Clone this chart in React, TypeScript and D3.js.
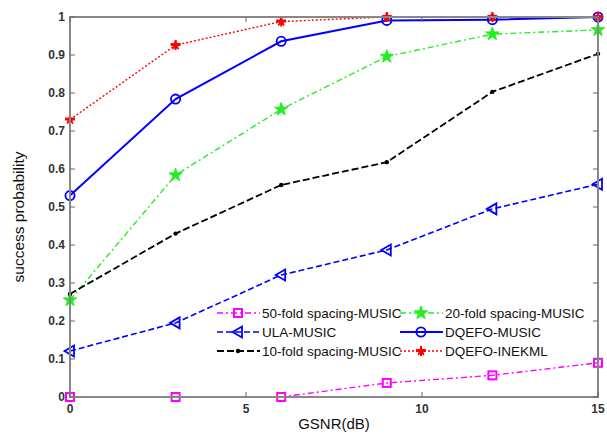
import React from "react";
import * as d3 from "d3";

const gsnr = [0, 3, 6, 9, 12, 15];
const fold50 = [0, 0, 0, 0.037, 0.057, 0.09];
const fold20 = [0.255, 0.584, 0.757, 0.896, 0.955, 0.966];
const ula = [0.121, 0.195, 0.321, 0.387, 0.495, 0.56];
const dqefoMusic = [0.53, 0.784, 0.936, 0.991, 0.993, 1.0];
const fold10 = [0.271, 0.43, 0.558, 0.618, 0.803, 0.903];
const dqefoInekml = [0.73, 0.926, 0.988, 1.0, 1.0, 1.0];

const seriesNames = [
  "50-fold spacing-MUSIC",
  "20-fold spacing-MUSIC",
  "ULA-MUSIC",
  "DQEFO-MUSIC",
  "10-fold spacing-MUSIC",
  "DQEFO-INEKML",
];
const xTicks = [0, 5, 10, 15];
const yTicks = [0, 0.1, 0.2, 0.3, 0.4, 0.5, 0.6, 0.7, 0.8, 0.9, 1];

const W = 607;
const H = 436;
const left = 70;
const right = 598;
const top = 17;
const bottom = 397;
const font = "'Liberation Sans', Arial, sans-serif";

type Style = { color: string; dash: string; marker: string; width: number };

const styles: Style[] = [
  { color: "#ff00ff", dash: "6,3,2,3", marker: "square", width: 1.4 },
  { color: "#22ee22", dash: "6,3,2,3", marker: "star", width: 1.4 },
  { color: "#0000ff", dash: "6,3", marker: "triangle", width: 1.6 },
  { color: "#0000ff", dash: "", marker: "circle", width: 2 },
  { color: "#000000", dash: "7,3", marker: "dot", width: 1.8 },
  { color: "#ff0000", dash: "2,2", marker: "hexstar", width: 1.4 },
];

const data = [fold50, fold20, ula, dqefoMusic, fold10, dqefoInekml];

function Marker({ kind, x, y, color }: { kind: string; x: number; y: number; color: string }) {
  if (kind === "square")
    return <rect x={x - 4} y={y - 4} width={8} height={8} fill="none" stroke={color} strokeWidth={2} />;
  if (kind === "circle") return <circle cx={x} cy={y} r={4.6} fill="none" stroke={color} strokeWidth={1.8} />;
  if (kind === "dot") return <circle cx={x} cy={y} r={2.2} fill={color} />;
  if (kind === "triangle") {
    const p = `${x - 5.5},${y} ${x + 4},${y - 5.5} ${x + 4},${y + 5.5}`;
    return <polygon points={p} fill="none" stroke={color} strokeWidth={1.8} />;
  }
  if (kind === "star") {
    const path = d3.symbol(d3.symbolStar, 55)();
    return <path d={path || ""} transform={`translate(${x},${y})`} fill={color} stroke={color} strokeWidth={1} />;
  }
  const path = d3.symbol(d3.symbolStar, 28)();
  return (
    <g transform={`translate(${x},${y})`}>
      <path d={path || ""} fill={color} stroke={color} strokeWidth={1} />
      <path d={`M-5,0H5M0,-5V5`} stroke={color} strokeWidth={2} />
    </g>
  );
}

export default function App() {
  const x = d3.scaleLinear().domain([0, 15]).range([left, right]);
  const y = d3.scaleLinear().domain([0, 1]).range([bottom, top]);
  const line = d3
    .line<number>()
    .x((_, i) => x(gsnr[i]))
    .y((v) => y(v));

  const legendRows = [313, 332, 351];
  const legendCols = [217, 400];

  return (
    <div style={{ position: "fixed", left: 0, top: 0 }}>
      <svg width={W} height={H} style={{ display: "block", background: "#fff" }}>
        <rect x={0} y={0} width={W} height={H} fill="#fff" />
        {/* series */}
        {data.map((vals, si) => {
          const s = styles[si];
          return (
            <g key={si}>
              <path
                d={line(vals) || ""}
                fill="none"
                stroke={s.color}
                strokeWidth={s.width}
                strokeDasharray={s.dash}
              />
              {vals.map((v, i) => (
                <Marker key={i} kind={s.marker} x={x(gsnr[i])} y={y(v)} color={s.color} />
              ))}
            </g>
          );
        })}
        {/* axes box */}
        <rect x={left} y={top} width={right - left} height={bottom - top} fill="none" stroke="#888" strokeWidth={2} />
        {yTicks.map((t) => (
          <g key={t}>
            <line x1={left} x2={left + 5} y1={y(t)} y2={y(t)} stroke="#666" strokeWidth={1} />
            <line x1={right} x2={right - 5} y1={y(t)} y2={y(t)} stroke="#666" strokeWidth={1} />
            <text
              x={left - 5}
              y={y(t) + 4}
              textAnchor="end"
              fontFamily={font}
              fontSize={12}
              fontWeight="bold"
              fill="#333"
            >
              {d3.format("~g")(t)}
            </text>
          </g>
        ))}
        {xTicks.map((t) => (
          <g key={t}>
            <line x1={x(t)} x2={x(t)} y1={bottom} y2={bottom - 5} stroke="#666" strokeWidth={1} />
            <line x1={x(t)} x2={x(t)} y1={top} y2={top + 5} stroke="#666" strokeWidth={1} />
            <text
              x={x(t)}
              y={bottom + 16}
              textAnchor="middle"
              fontFamily={font}
              fontSize={12}
              fontWeight="bold"
              fill="#333"
            >
              {t}
            </text>
          </g>
        ))}
        <text x={(left + right) / 2} y={429} textAnchor="middle" fontFamily={font} fontSize={15} fill="#111">
          GSNR(dB)
        </text>
        <text
          transform={`translate(24,${217}) rotate(-90)`}
          textAnchor="middle"
          fontFamily={font}
          fontSize={15.5}
          fill="#111"
        >
          success probability
        </text>
        {/* legend */}
        {seriesNames.map((name, i) => {
          const col = legendCols[i % 2];
          const row = legendRows[Math.floor(i / 2)];
          const s = styles[i];
          return (
            <g key={name}>
              <line
                x1={col}
                x2={col + 43}
                y1={row}
                y2={row}
                stroke={s.color}
                strokeWidth={s.width}
                strokeDasharray={s.dash}
              />
              <Marker kind={s.marker} x={col + 21} y={row} color={s.color} />
              <text x={col + 45} y={row + 4.5} fontFamily={font} fontSize={13.5} fill="#111">
                {name}
              </text>
            </g>
          );
        })}
      </svg>
    </div>
  );
}
